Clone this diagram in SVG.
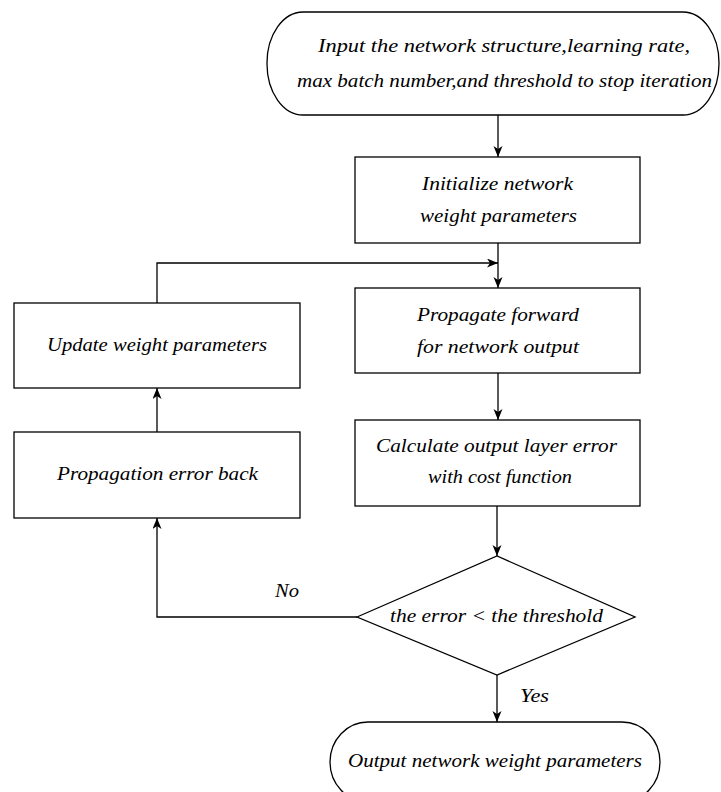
<svg xmlns="http://www.w3.org/2000/svg" width="721" height="792" viewBox="0 0 721 792">
<defs>
<style>
.s{fill:#fff;stroke:#000;stroke-width:1.3}
.c{fill:none;stroke:#000;stroke-width:1.3}
.t{font-family:"Liberation Serif","DejaVu Serif",serif;font-style:italic;font-size:18px;fill:#000}
</style>
<marker id="ah" markerWidth="12" markerHeight="10" refX="11" refY="4.5" orient="auto" markerUnits="userSpaceOnUse">
<path d="M0,0 L11,4.5 L0,9 L3,4.5 Z" fill="#000"/>
</marker>
</defs>
<rect width="721" height="792" fill="#fff"/>
<g id="start">
<rect class="s" x="267" y="12" width="452" height="103" rx="36" ry="51"/>
<text class="t" x="318" y="52" textLength="372" lengthAdjust="spacingAndGlyphs">Input the network structure,learning rate,</text>
<text class="t" x="297" y="87" textLength="415" lengthAdjust="spacingAndGlyphs">max batch number,and threshold to stop iteration</text>
</g>
<g id="init">
<rect class="s" x="355" y="157" width="285" height="86"/>
<text class="t" x="422" y="190" textLength="151" lengthAdjust="spacingAndGlyphs">Initialize network</text>
<text class="t" x="420" y="222" textLength="157" lengthAdjust="spacingAndGlyphs">weight parameters</text>
</g>
<g id="forward">
<rect class="s" x="355" y="288" width="285" height="85"/>
<text class="t" x="417" y="321" textLength="162" lengthAdjust="spacingAndGlyphs">Propagate forward</text>
<text class="t" x="417" y="353" textLength="162" lengthAdjust="spacingAndGlyphs">for network output</text>
</g>
<g id="calc">
<rect class="s" x="355" y="420" width="285" height="86"/>
<text class="t" x="376" y="452" textLength="241" lengthAdjust="spacingAndGlyphs">Calculate output layer error</text>
<text class="t" x="428" y="483" textLength="144" lengthAdjust="spacingAndGlyphs">with cost function</text>
</g>
<g id="update">
<rect class="s" x="14" y="303" width="286" height="85"/>
<text class="t" x="47" y="351" textLength="220" lengthAdjust="spacingAndGlyphs">Update weight parameters</text>
</g>
<g id="back">
<rect class="s" x="14" y="432" width="286" height="86"/>
<text class="t" x="57" y="480" textLength="201" lengthAdjust="spacingAndGlyphs">Propagation error back</text>
</g>
<g id="decision">
<polygon class="s" points="357,617 497,556 635,617 497,675"/>
<text class="t" x="390" y="622" textLength="213" lengthAdjust="spacingAndGlyphs">the error &lt; the threshold</text>
</g>
<g id="end">
<rect class="s" x="330" y="722" width="330" height="80" rx="38" ry="40"/>
<text class="t" x="348" y="767" textLength="294" lengthAdjust="spacingAndGlyphs">Output network weight parameters</text>
</g>
<g id="connectors">
<line class="c" x1="498" y1="115" x2="498" y2="157" marker-end="url(#ah)"/>
<line class="c" x1="498" y1="243" x2="498" y2="288" marker-end="url(#ah)"/>
<polyline class="c" points="157,303 157,263 498,263" marker-end="url(#ah)"/>
<line class="c" x1="498" y1="373" x2="498" y2="420" marker-end="url(#ah)"/>
<line class="c" x1="497" y1="506" x2="497" y2="556" marker-end="url(#ah)"/>
<line class="c" x1="497" y1="675" x2="497" y2="722" marker-end="url(#ah)"/>
<polyline class="c" points="357,617 157,617 157,518" marker-end="url(#ah)"/>
<line class="c" x1="157" y1="432" x2="157" y2="388" marker-end="url(#ah)"/>
<text class="t" x="520" y="702" textLength="29" lengthAdjust="spacingAndGlyphs">Yes</text>
<text class="t" x="275" y="597" textLength="24" lengthAdjust="spacingAndGlyphs">No</text>
</g>
</svg>
